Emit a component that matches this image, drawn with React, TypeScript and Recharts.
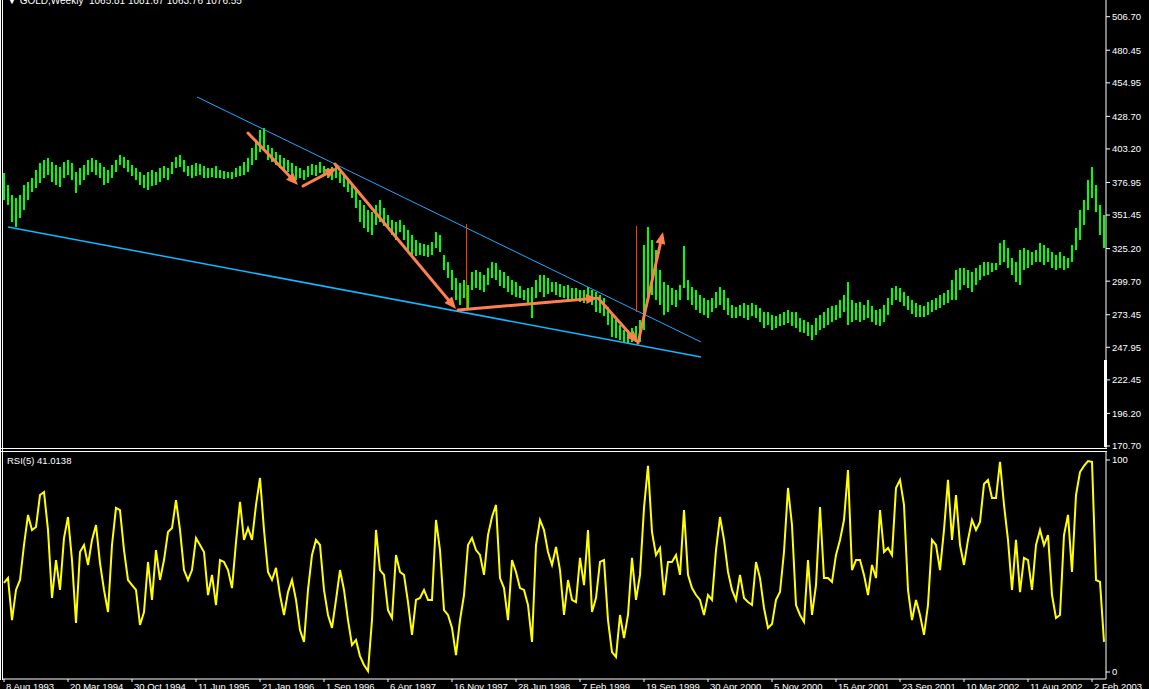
import React from 'react';
import { ComposedChart, Bar, Line, XAxis, YAxis, ReferenceLine } from 'recharts';

const FONT = '"Liberation Sans", Arial, sans-serif';

// ---------- data ----------
const dateLabels = [
  '8 Aug 1993', '20 Mar 1994', '30 Oct 1994', '11 Jun 1995', '21 Jan 1996', '1 Sep 1996',
  '6 Apr 1997', '16 Nov 1997', '28 Jun 1998', '7 Feb 1999', '19 Sep 1999', '30 Apr 2000',
  '5 Nov 2000', '15 Apr 2001', '23 Sep 2001', '10 Mar 2002', '11 Aug 2002', '2 Feb 2003',
];
const dateTickIndex = [0, 16, 32, 48, 64, 80, 96, 112, 128, 144, 160, 176, 192, 208, 224, 240, 256, 272];

const highs = [
  384.4, 375.0, 367.2, 364.8, 367.2, 375.0, 377.3, 380.5, 386.7, 392.2,
  394.5, 396.1, 392.9, 390.6, 389.1, 392.9, 394.5, 392.2, 385.2, 388.3,
  390.6, 394.5, 396.1, 394.5, 392.2, 389.1, 386.7, 390.6, 394.5, 398.5,
  396.9, 394.5, 390.6, 388.3, 385.2, 382.8, 385.2, 386.7, 385.2, 388.3,
  389.9, 388.3, 392.9, 396.9, 398.5, 394.5, 389.9, 390.6, 392.2, 391.4,
  389.9, 388.3, 388.3, 389.9, 386.7, 385.9, 385.2, 385.2, 388.3, 389.9,
  392.9, 396.1, 403.9, 410.2, 418.0, 419.6, 406.3, 403.9, 400.8, 398.5,
  396.1, 394.5, 392.2, 389.9, 388.3, 386.7, 389.9, 391.4, 390.6, 392.9,
  389.9, 388.3, 389.1, 390.6, 385.2, 382.8, 380.5, 376.5, 371.1, 363.2,
  359.3, 355.4, 353.9, 359.3, 363.2, 357.0, 351.5, 347.6, 346.0, 347.6,
  343.7, 339.8, 335.9, 332.0, 329.6, 328.8, 328.0, 330.4, 338.2, 335.9,
  320.2, 314.7, 308.5, 302.2, 298.3, 300.6, 296.7, 306.9, 308.5, 306.9,
  304.5, 310.0, 314.7, 313.9, 308.5, 306.9, 303.8, 300.6, 299.1, 295.9,
  292.8, 294.4, 295.1, 300.6, 304.5, 304.5, 302.2, 299.1, 299.1, 297.5,
  295.9, 296.7, 294.4, 294.4, 292.8, 292.8, 295.1, 292.8, 291.2, 288.9,
  286.5, 279.5, 273.2, 269.3, 265.4, 261.5, 261.5, 263.1, 264.6, 269.3,
  328.0, 342.1, 332.0, 324.1, 308.5, 299.1, 296.7, 294.4, 292.8, 296.7,
  327.2, 300.6, 295.1, 292.8, 288.9, 286.5, 285.0, 286.5, 291.2, 295.1,
  292.8, 286.5, 281.1, 279.5, 281.1, 282.6, 281.1, 282.6, 281.1, 278.7,
  275.6, 275.6, 273.2, 272.4, 274.0, 275.6, 277.1, 275.6, 275.6, 270.9,
  269.3, 267.8, 265.4, 270.9, 273.2, 275.6, 278.7, 280.3, 281.1, 285.0,
  288.9, 299.1, 285.0, 282.6, 283.4, 281.1, 285.0, 280.3, 277.1, 277.9,
  281.1, 286.5, 294.4, 295.9, 294.4, 291.2, 288.1, 285.0, 282.6, 281.1,
  280.3, 283.4, 285.0, 286.5, 288.9, 290.5, 292.8, 300.6, 308.5, 310.0,
  310.0, 308.5, 306.9, 310.0, 312.4, 314.7, 314.7, 313.9, 313.9, 329.6,
  332.0, 325.7, 317.8, 314.7, 324.1, 325.7, 324.1, 322.5, 324.1, 329.6,
  328.0, 325.7, 322.5, 320.2, 322.5, 319.4, 317.8, 328.0, 341.3, 355.4,
  363.2, 378.9, 389.1, 375.0, 359.3, 351.5,
];

const lows = [
  363.2, 359.3, 346.0, 342.1, 349.1, 355.4, 363.2, 369.5, 372.6, 376.5,
  380.5, 382.8, 377.3, 375.0, 373.4, 380.5, 382.8, 378.9, 368.7, 375.0,
  378.9, 382.8, 385.2, 382.8, 380.5, 375.0, 376.5, 380.5, 385.2, 390.6,
  388.3, 385.2, 382.0, 378.9, 375.0, 372.6, 371.1, 374.2, 375.0, 377.3,
  380.5, 378.9, 383.6, 388.3, 389.1, 385.2, 382.0, 380.5, 382.0, 382.8,
  380.5, 380.5, 381.2, 380.5, 380.5, 379.7, 380.5, 379.7, 381.2, 382.0,
  382.8, 385.2, 390.6, 394.5, 400.8, 402.4, 394.5, 392.9, 390.6, 388.3,
  386.7, 385.2, 381.2, 378.9, 380.5, 378.9, 381.2, 382.8, 382.0, 384.4,
  382.0, 380.5, 378.9, 380.5, 376.5, 373.4, 369.5, 364.8, 357.0, 346.0,
  341.3, 338.2, 335.9, 343.7, 346.0, 342.9, 341.3, 335.9, 332.0, 338.2,
  332.0, 324.1, 320.2, 319.4, 320.2, 319.4, 318.6, 320.2, 325.7, 322.5,
  308.5, 302.2, 292.8, 285.0, 281.1, 286.5, 277.1, 292.8, 294.4, 292.8,
  291.2, 296.7, 302.2, 300.6, 295.9, 294.4, 291.2, 288.9, 287.3, 286.5,
  285.0, 282.6, 270.9, 286.5, 291.2, 287.3, 289.7, 291.2, 288.9, 287.3,
  286.5, 285.0, 285.0, 285.0, 283.4, 282.6, 285.0, 281.1, 275.6, 274.8,
  272.4, 265.4, 256.0, 255.2, 253.7, 252.1, 251.3, 252.1, 252.1, 252.1,
  261.5, 285.0, 288.9, 285.0, 281.1, 273.2, 275.6, 281.1, 279.5, 285.0,
  294.4, 285.0, 281.1, 277.1, 274.8, 273.2, 270.9, 275.6, 278.7, 281.1,
  277.1, 273.2, 270.9, 270.9, 272.4, 270.9, 269.3, 272.4, 270.9, 267.8,
  263.1, 265.4, 261.5, 263.1, 264.6, 265.4, 267.0, 264.6, 263.1, 259.9,
  259.1, 256.8, 253.7, 257.6, 261.5, 263.1, 265.4, 267.8, 269.3, 270.9,
  275.6, 265.4, 267.8, 269.3, 267.8, 269.3, 270.9, 267.8, 265.4, 264.6,
  267.8, 273.2, 281.1, 285.0, 283.4, 280.3, 277.1, 274.0, 271.7, 271.7,
  271.7, 273.2, 275.6, 277.1, 278.7, 281.1, 282.6, 285.0, 285.0, 292.8,
  296.7, 294.4, 291.2, 296.7, 300.6, 303.7, 304.5, 306.9, 308.5, 312.4,
  314.7, 310.0, 304.5, 299.1, 296.7, 308.5, 310.0, 312.4, 314.7, 314.7,
  312.4, 314.7, 310.0, 308.5, 310.0, 308.5, 310.0, 314.7, 324.1, 332.0,
  343.7, 355.4, 364.8, 353.9, 335.9, 325.7,
];

const rsiValues = [
  42.0, 44.3, 24.5, 38.7, 43.4, 59.9, 74.1, 67.0, 68.4, 83.5,
  84.9, 67.0, 34.9, 52.8, 38.7, 63.2, 73.1, 52.8, 23.1, 56.6,
  59.9, 50.5, 62.3, 69.3, 51.4, 38.7, 28.3, 59.9, 77.4, 76.4,
  57.5, 43.4, 41.0, 38.7, 22.2, 28.3, 51.9, 34.0, 57.5, 43.4,
  52.8, 66.0, 67.9, 81.1, 67.0, 48.1, 43.4, 48.1, 63.2, 59.9,
  56.6, 36.3, 45.8, 31.6, 52.8, 51.9, 48.1, 39.6, 61.3, 80.2,
  62.3, 67.9, 62.3, 78.8, 91.5, 67.0, 47.2, 43.4, 49.1, 36.3,
  26.9, 37.7, 43.4, 34.0, 19.8, 14.2, 38.7, 55.2, 62.3, 59.9,
  38.7, 26.9, 20.8, 34.0, 48.1, 38.7, 24.5, 12.7, 15.1, 7.5,
  3.3, 0.5, 24.5, 67.0, 48.1, 45.8, 29.2, 25.5, 55.2, 47.2,
  45.8, 33.0, 17.5, 34.0, 34.9, 38.7, 34.0, 34.0, 71.7, 57.5,
  29.2, 26.9, 20.8, 8.0, 24.5, 36.3, 59.9, 63.2, 57.5, 55.2,
  45.8, 64.6, 73.1, 78.8, 44.3, 39.6, 24.5, 52.8, 47.2, 39.6,
  38.7, 31.6, 14.2, 59.9, 71.7, 67.0, 56.6, 50.5, 59.0, 48.1,
  26.9, 43.4, 34.0, 33.0, 53.8, 41.0, 67.0, 28.3, 34.9, 51.9,
  52.8, 24.5, 9.4, 7.1, 26.9, 16.0, 26.9, 53.8, 34.0, 45.8,
  77.4, 97.2, 66.0, 55.2, 58.5, 36.3, 51.9, 51.9, 55.2, 45.8,
  76.4, 45.8, 39.6, 36.3, 34.0, 26.9, 36.3, 34.0, 57.5, 73.1,
  62.3, 47.2, 38.7, 34.0, 45.8, 34.9, 33.0, 31.6, 51.9, 44.3,
  30.2, 20.8, 22.6, 34.0, 37.7, 56.6, 86.8, 69.3, 31.6, 26.9,
  23.6, 52.8, 26.9, 41.0, 77.8, 44.3, 44.3, 42.5, 55.2, 62.3,
  71.7, 95.3, 48.1, 52.8, 52.8, 45.8, 36.3, 50.5, 44.3, 76.4,
  56.6, 58.5, 55.2, 86.8, 90.6, 78.8, 38.7, 24.5, 34.0, 26.9,
  17.5, 31.6, 62.3, 59.9, 48.1, 67.0, 90.6, 62.3, 83.5, 59.9,
  50.5, 62.3, 71.7, 67.0, 70.8, 88.7, 90.6, 82.1, 82.1, 99.1,
  78.8, 62.3, 38.7, 62.3, 37.7, 53.8, 52.8, 38.7, 59.9, 67.0,
  59.9, 64.6, 36.3, 25.5, 26.9, 64.6, 74.1, 47.2, 83.5, 94.3,
  97.2, 99.5, 99.1, 43.4, 42.5, 14.2,
];

const priceTicks = [170.70, 196.20, 222.45, 247.95, 273.45, 299.70, 325.20, 351.45, 376.95, 403.20, 428.70, 454.95, 480.45, 506.70];
const rsiTicks = [0, 100];

// annotations in data coordinates (bar index, price)
const upperTrend = [{ x: 48.25, y: 443.9 }, { x: 174.25, y: 252.1 }];
const lowerTrend = [{ x: 1, y: 342.1 }, { x: 174.25, y: 240.4 }];
const redMarks = [
  [{ x: 115.625, y: 344.4 }, { x: 115.625, y: 277.1 }],
  [{ x: 158.125, y: 342.9 }, { x: 158.125, y: 275.6 }],
];
const arrowPaths = [
  [{ x: 61, y: 415.7 }, { x: 73.5, y: 375.0 }],
  [{ x: 74.75, y: 374.2 }, { x: 83.25, y: 388.3 }],
  [{ x: 82.75, y: 391.4 }, { x: 113, y: 277.9 }],
  [{ x: 113.5, y: 277.1 }, { x: 148.5, y: 286.5 }],
  [{ x: 148.5, y: 286.5 }, { x: 158.5, y: 251.3 }],
  [{ x: 158.5, y: 251.3 }, { x: 164.75, y: 338.2 }],
];

const priceData = highs.map((h, i) => ({ i, range: [lows[i], h] }));
const rsiData = rsiValues.map((r, i) => ({ i, r }));

const ARROW_COLOR = '#FF7F50';

const ArrowShape = (props: any) => {
  const { x1, y1, x2, y2 } = props;
  const dx = x2 - x1;
  const dy = y2 - y1;
  const len = Math.hypot(dx, dy) || 1;
  const ux = dx / len;
  const uy = dy / len;
  const hl = 12;
  const hw = 5;
  const bx = x2 - ux * hl;
  const by = y2 - uy * hl;
  const px = -uy;
  const py = ux;
  return (
    <g>
      <line x1={x1} y1={y1} x2={bx} y2={by} stroke={ARROW_COLOR} strokeWidth={3} strokeLinecap="round" />
      <polygon
        points={`${x2},${y2} ${bx + px * hw},${by + py * hw} ${bx - px * hw},${by - py * hw}`}
        fill={ARROW_COLOR}
      />
    </g>
  );
};

const RedMark = (props: any) => {
  const { x1, y1, x2, y2 } = props;
  return <line x1={x1} y1={y1} x2={x2} y2={y2} stroke="#FF3A00" strokeWidth={1} />;
};

const DateTick = (props: any) => {
  const { x, y, payload } = props;
  const k = dateTickIndex.indexOf(payload.value);
  return (
    <text x={x + 2} y={y} dy="0.71em" fill="#fff" fontSize={9.5} fontFamily={FONT} textAnchor="start">
      {k >= 0 ? dateLabels[k] : ''}
    </text>
  );
};

const axisTick = { fill: '#fff', fontSize: 9.5, fontFamily: FONT };

export default function App() {
  return (
    <div style={{ position: 'fixed', left: 0, top: 0, width: 1149, height: 689, background: '#000', overflow: 'hidden' }}>
      <div style={{ position: 'absolute', left: 0, top: 0 }}>
        <ComposedChart width={1149} height={460} data={priceData} margin={{ top: 0, right: 0, bottom: 12, left: 2 }}>
          <XAxis dataKey="i" type="number" domain={[-0.5, 275.5]} hide allowDataOverflow />
          <YAxis
            orientation="right"
            type="number"
            domain={[169.13, 519.78]}
            allowDataOverflow
            ticks={priceTicks}
            interval={0}
            width={43}
            tick={axisTick}
            tickFormatter={(v: number) => v.toFixed(2)}
            tickSize={4}
            tickMargin={2}
            axisLine={{ stroke: '#fff' }}
            tickLine={{ stroke: '#fff' }}
          />
          <Bar dataKey="range" fill="#00FF00" barSize={2} isAnimationActive={false} />
          <ReferenceLine segment={upperTrend} stroke="#1EA8FF" strokeWidth={1} ifOverflow="visible" />
          <ReferenceLine segment={lowerTrend} stroke="#0FB8FF" strokeWidth={1.5} ifOverflow="visible" />
          {redMarks.map((s, k) => (
            <ReferenceLine key={'r' + k} segment={s} ifOverflow="visible" shape={(p: any) => <RedMark {...p} />} />
          ))}
          {arrowPaths.map((s, k) => (
            <ReferenceLine key={'a' + k} segment={s} ifOverflow="visible" shape={(p: any) => <ArrowShape {...p} />} />
          ))}
        </ComposedChart>
      </div>
      <div style={{ position: 'absolute', left: 0, top: 452 }}>
        <ComposedChart width={1149} height={250} data={rsiData} margin={{ top: 0, right: 0, bottom: 0, left: 2 }}>
          <XAxis
            dataKey="i"
            type="number"
            domain={[-0.5, 275.5]}
            allowDataOverflow
            ticks={dateTickIndex}
            interval={0}
            height={23}
            tick={(p: any) => <DateTick {...p} />}
            tickSize={3}
            tickMargin={1}
            axisLine={{ stroke: '#fff' }}
            tickLine={{ stroke: '#fff' }}
          />
          <YAxis
            orientation="right"
            type="number"
            domain={[-3.3, 103.77]}
            allowDataOverflow
            ticks={rsiTicks}
            interval={0}
            width={43}
            tick={axisTick}
            tickSize={4}
            tickMargin={2}
            axisLine={{ stroke: '#fff' }}
            tickLine={{ stroke: '#fff' }}
          />
          <Line dataKey="r" type="linear" stroke="#FFFF00" strokeWidth={2} dot={false} isAnimationActive={false} />
        </ComposedChart>
      </div>
      <svg width={1149} height={689} style={{ position: 'absolute', left: 0, top: 0, pointerEvents: 'none' }}>
        <rect x={0} y={0} width={1} height={680} fill="#fff" />
        <rect x={2} y={0} width={1} height={680} fill="#fff" />
        <rect x={0} y={448} width={1107} height={1} fill="#fff" />
        <rect x={0} y={451} width={1107} height={1} fill="#fff" />
        <rect x={1104} y={360} width={3} height={87} fill="#fff" />
        <text x={7} y={3.5} fill="#fff" fontSize={10} fontFamily={FONT} style={{ whiteSpace: 'pre' }}>
          {'\u25BC GOLD,Weekly  1065.81 1081.67 1063.76 1076.55'}
        </text>
        <text x={7} y={463.5} fill="#fff" fontSize={9.5} fontFamily={FONT}>
          RSI(5) 41.0138
        </text>
      </svg>
    </div>
  );
}
